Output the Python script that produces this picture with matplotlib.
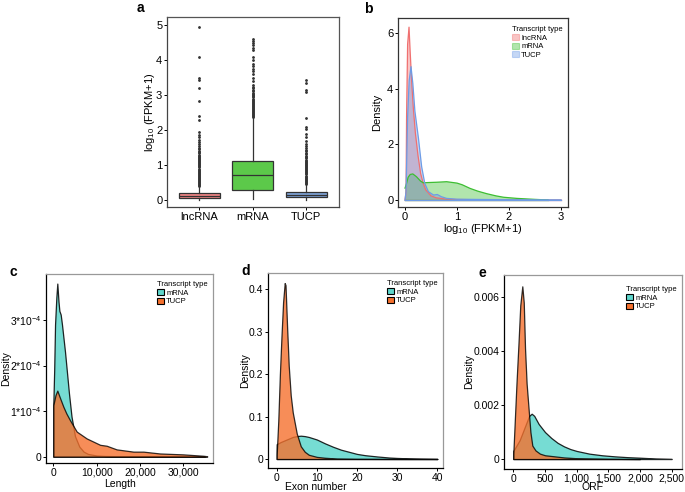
import matplotlib
matplotlib.use('Agg')
import matplotlib.pyplot as plt
from matplotlib.patches import Patch

plt.rcParams['font.family'] = ['Liberation Sans', 'DejaVu Sans']
plt.rcParams['mathtext.fontset'] = 'custom'
plt.rcParams['mathtext.rm'] = 'Liberation Sans'
plt.rcParams['mathtext.it'] = 'Liberation Sans:italic'

# ---------------- data ----------------
# panel a: box plot summary
box_cats = ['lncRNA', 'mRNA', 'TUCP']
box_q1 = [0.07, 0.30, 0.10]
box_med = [0.13, 0.73, 0.16]
box_q3 = [0.22, 1.12, 0.25]
box_lo = [0.01, 0.03, 0.02]
box_hi = [0.38, 2.35, 0.45]
fliers_lnc = [0.40, 0.43, 0.46, 0.49, 0.52, 0.55, 0.58, 0.61, 0.64, 0.67, 0.70, 0.73,
              0.76, 0.79, 0.82, 0.85, 0.88, 0.91, 0.94, 0.97, 1.00, 1.03, 1.06, 1.09,
              1.12, 1.15, 1.18, 1.21, 1.24, 1.27, 1.30, 1.34, 1.38, 1.42, 1.46, 1.50,
              1.55, 1.60, 1.66, 1.72, 1.80, 1.88, 1.95, 2.30, 2.40, 2.85, 3.20, 3.45,
              3.50, 4.10, 4.95]
fliers_mrna = [2.37, 2.40, 2.43, 2.46, 2.49, 2.52, 2.55, 2.58, 2.61, 2.64, 2.67, 2.70,
               2.73, 2.76, 2.79, 2.82, 2.85, 2.88, 2.91, 2.94, 2.97, 3.00, 3.04, 3.08,
               3.12, 3.16, 3.20, 3.25, 3.30, 3.40, 3.50, 3.60, 3.70, 3.75, 3.85, 3.90,
               4.00, 4.10, 4.30, 4.35, 4.45, 4.50, 4.55, 4.60]
fliers_tucp = [0.47, 0.50, 0.53, 0.56, 0.59, 0.62, 0.65, 0.68, 0.71, 0.74, 0.77, 0.80,
               0.83, 0.86, 0.89, 0.92, 0.95, 0.98, 1.01, 1.04, 1.07, 1.10, 1.13, 1.16,
               1.20, 1.24, 1.28, 1.32, 1.36, 1.40, 1.45, 1.50, 1.55, 1.60, 1.70, 1.80,
               1.90, 2.05, 2.10, 2.35, 3.10, 3.15, 3.35, 3.45]
box_fliers = [fliers_lnc, fliers_mrna, fliers_tucp]

# panel b: densities of log10(FPKM+1)
b_lnc_x = [0, 0.02, 0.03, 0.05, 0.077, 0.10, 0.13, 0.16, 0.20, 0.25, 0.30, 0.35, 0.40,
           0.50, 0.60, 0.80, 1.0, 1.5, 2.0, 2.5, 3.0]
b_lnc_y = [0, 0.3, 3.0, 5.6, 6.22, 5.3, 4.2, 3.3, 2.4, 1.6, 0.96, 0.6, 0.36,
           0.15, 0.08, 0.03, 0.02, 0.01, 0.005, 0.002, 0]
b_mrna_x = [0, 0.03, 0.06, 0.10, 0.15, 0.22, 0.30, 0.35, 0.45, 0.60, 0.80, 1.0, 1.1,
            1.25, 1.40, 1.57, 1.75, 1.9, 2.15, 2.5, 2.75]
b_mrna_y = [0.43, 0.6, 0.82, 0.92, 0.94, 0.84, 0.68, 0.62, 0.63, 0.64, 0.66, 0.61, 0.55,
            0.42, 0.32, 0.23, 0.15, 0.10, 0.06, 0.024, 0.003]
b_tucp_x = [0, 0.02, 0.05, 0.08, 0.115, 0.15, 0.19, 0.26, 0.32, 0.38, 0.45, 0.55, 0.62,
            0.70, 0.80, 1.0, 1.5, 2.0, 3.0]
b_tucp_y = [0, 0.3, 3.0, 4.3, 4.8, 4.2, 3.2, 2.2, 1.2, 0.6, 0.3, 0.18, 0.2,
            0.12, 0.06, 0.03, 0.02, 0.01, 0.005]

# panel c: transcript length densities (units of 1e-4)
c_mrna_x = [0, 200, 400, 700, 920, 1200, 1400, 1700, 2000, 2700, 3100, 3600, 4200,
            5000, 6000, 7000, 8000, 10000, 12000, 15000, 20000, 25000, 30000, 35000]
c_mrna_y = [1.15, 1.9, 2.9, 3.5, 3.8, 3.4, 3.2, 3.12, 2.9, 2.3, 1.9, 1.4, 0.88,
            0.45, 0.22, 0.11, 0.06, 0.025, 0.015, 0.01, 0.006, 0.004, 0.003, 0.001]
c_tucp_x = [0, 500, 920, 1500, 2300, 3000, 3850, 5400, 7700, 10800, 12300, 14600,
            18500, 20800, 24600, 30000, 34600, 35500]
c_tucp_y = [1.13, 1.35, 1.45, 1.3, 1.1, 0.95, 0.8, 0.55, 0.4, 0.26, 0.24, 0.16,
            0.11, 0.11, 0.07, 0.05, 0.02, 0.01]
c_scale = 1e-4

# panel d: exon number densities
d_mrna_x = [0, 1, 2, 3, 4, 5, 6, 7, 8, 10, 12, 14, 16, 18, 20, 22, 25, 28, 30, 33, 36, 40]
d_mrna_y = [0.035, 0.04, 0.044, 0.048, 0.052, 0.054, 0.055, 0.054, 0.052, 0.046, 0.037,
            0.029, 0.022, 0.017, 0.012, 0.009, 0.006, 0.0035, 0.0025, 0.0015, 0.0008, 0.0002]
d_tucp_x = [0, 0.4, 0.8, 1.2, 1.6, 2.0, 2.2, 2.6, 3.0, 3.5, 4.0, 4.5, 5.0, 6.0, 7.0, 8.0,
            10, 12, 15, 20, 30, 40]
d_tucp_y = [0.01, 0.09, 0.2, 0.29, 0.37, 0.415, 0.41, 0.31, 0.22, 0.15, 0.11, 0.085, 0.06,
            0.03, 0.017, 0.01, 0.005, 0.003, 0.001, 0.0003, 0.0001, 0]

# panel e: ORF length densities
e_mrna_x = [0, 50, 100, 150, 200, 250, 290, 330, 400, 450, 500, 600, 700, 800, 900, 1000,
            1200, 1400, 1600, 1800, 2000, 2250, 2500]
e_mrna_y = [0.0003, 0.0005, 0.0007, 0.001, 0.0013, 0.0016, 0.00168, 0.0016, 0.0013,
            0.00115, 0.001, 0.00078, 0.0006, 0.00047, 0.00037, 0.0003, 0.0002, 0.00014,
            0.0001, 0.00007, 0.00005, 0.00002, 0.000005]
e_tucp_x = [0, 25, 50, 80, 110, 142, 165, 185, 210, 240, 270, 300, 350, 420, 500, 650,
            800, 1000, 1500, 2000]
e_tucp_y = [0.0002, 0.0015, 0.0028, 0.0042, 0.0057, 0.0064, 0.0058, 0.0041, 0.0028, 0.0019,
            0.001, 0.0005, 0.00032, 0.0002, 0.00014, 0.0001, 0.00006, 0.00003, 0.00001, 0]

# ---------------- styling ----------------
W, H = 685, 492
fig = plt.figure(figsize=(W / 100, H / 100), dpi=100)
AX = {}


def rect(l, t, r, b):
    return [l / W, 1 - b / H, (r - l) / W, (b - t) / H]


def add_axes(name, l, t, r, b):
    ax = fig.add_axes(rect(l, t, r, b))
    AX[name] = (ax, l, t, r, b)
    return ax


def place_labels(name, xlab, ylab, xl_xy, yl_x, size=8):
    ax, l, t, r, b = AX[name]
    if xlab is not None:
        ax.set_xlabel(xlab, fontsize=size, va='center')
        ax.xaxis.set_label_coords((xl_xy[0] - l) / (r - l), (b - xl_xy[1]) / (b - t))
    if ylab is not None:
        ax.set_ylabel(ylab, fontsize=size, va='center')
        ax.yaxis.set_label_coords((yl_x - l) / (r - l), 0.5)


def style(ax, frame_tr='#444444', frame_lb='#333333', size=8):
    for s in ['top', 'right']:
        ax.spines[s].set_color(frame_tr)
        ax.spines[s].set_linewidth(0.9)
    for s in ['left', 'bottom']:
        ax.spines[s].set_color(frame_lb)
        ax.spines[s].set_linewidth(0.9)
    ax.tick_params(direction='out', length=2.2, width=0.7, labelsize=size,
                   colors='black', pad=1.2)


def legend(ax, labels, colors, alpha, edge, loc_xy):
    handles = [Patch(facecolor=c, alpha=alpha, edgecolor=e, linewidth=0.8)
               for c, e in zip(colors, edge)]
    lg = ax.legend(handles, labels, title='Transcript type', loc='upper right',
                   bbox_to_anchor=loc_xy, frameon=False, fontsize=5.5,
                   title_fontsize=5.5, handlelength=0.9, handleheight=0.9,
                   handletextpad=0.3, labelspacing=0.1, borderpad=0.2)
    lg._legend_box.align = 'left'
    return lg


# ---------------- panel a ----------------
box_cols = ['#F08585', '#5CC94A', '#7EA2D6']
axa = add_axes('a', 167, 17, 338.5, 207)
stats = []
for i in range(3):
    stats.append(dict(med=box_med[i], q1=box_q1[i], q3=box_q3[i],
                      whislo=box_lo[i], whishi=box_hi[i], fliers=box_fliers[i],
                      label=box_cats[i]))
bp = axa.bxp(stats, positions=[1, 2, 3], widths=0.76, patch_artist=True,
             boxprops=dict(edgecolor='#333333', linewidth=0.9),
             medianprops=dict(color='#333333', linewidth=0.9),
             whiskerprops=dict(color='#333333', linewidth=0.9),
             capprops=dict(linewidth=0),
             flierprops=dict(marker='o', markersize=1.0, markerfacecolor='#333333',
                             markeredgecolor='#333333', linestyle='none'))
for p, c in zip(bp['boxes'], box_cols):
    p.set_facecolor(c)
axa.set_xlim(0.4, 3.6)
axa.set_ylim(-0.19, 5.24)
axa.set_yticks([0, 1, 2, 3, 4, 5])
style(axa, '#555555', '#444444')
place_labels('a', None, r'log$_{\mathregular{10}}$ (FPKM+1)', None, 150)

# ---------------- panel b ----------------
b_cols = ['#F07070', '#3DBE32', '#6E9CE6']
axb = add_axes('b', 398, 18, 568, 207)
for xs, ys, c in [(b_lnc_x, b_lnc_y, b_cols[0]), (b_mrna_x, b_mrna_y, b_cols[1]),
                  (b_tucp_x, b_tucp_y, b_cols[2])]:
    axb.fill_between(xs, ys, 0, facecolor=c, alpha=0.4, edgecolor='none')
    axb.plot(xs, ys, color=c, lw=0.9)
    axb.plot([xs[0], xs[-1]], [0, 0], color=c, lw=0.9)
axb.set_xlim(-0.135, 3.135)
axb.set_ylim(-0.25, 6.55)
axb.set_xticks([0, 1, 2, 3])
axb.set_yticks([0, 2, 4, 6])
style(axb, '#333333', '#333333')
place_labels('b', r'log$_{\mathregular{10}}$ (FPKM+1)', 'Density', (483, 229), 377)
legend(axb, box_cats, b_cols, 0.4, b_cols, (1.0, 0.985))

# ---------------- panels c,d,e ----------------
teal = '#5ED6CC'
orange = '#F5712E'


def dens_pair(ax, mx, my, tx, ty):
    ax.fill_between(mx, my, 0, facecolor=teal, alpha=0.85, edgecolor='black',
                    linewidth=0.9)
    ax.fill_between(tx, ty, 0, facecolor=orange, alpha=0.8, edgecolor='black',
                    linewidth=0.9)


axc = add_axes('c', 46, 274, 213, 463)
dens_pair(axc, c_mrna_x, [v * c_scale for v in c_mrna_y],
          c_tucp_x, [v * c_scale for v in c_tucp_y])
axc.set_xlim(-1690, 36850)
axc.set_ylim(-0.139e-4, 4.01e-4)
axc.set_xticks([0, 10000, 20000, 30000])
axc.set_xticklabels(['0', '10,000', '20,000', '30,000'])
axc.set_yticks([0, 1e-4, 2e-4, 3e-4])
axc.set_yticklabels(['0', r'1*10$^{\mathregular{-4}}$', r'2*10$^{\mathregular{-4}}$',
                     r'3*10$^{\mathregular{-4}}$'])
style(axc, '#999999', 'black', size=7.5)
place_labels('c', 'Length', 'Density', (120, 484), 6, size=7.5)
legend(axc, ['mRNA', 'TUCP'], [teal, orange], 1.0, ['black', 'black'], (1.0, 0.99))

axd = add_axes('d', 268, 273, 443, 468)
dens_pair(axd, d_mrna_x, d_mrna_y, d_tucp_x, d_tucp_y)
axd.set_xlim(-2.16, 41.4)
axd.set_ylim(-0.0212, 0.4387)
axd.set_xticks([0, 10, 20, 30, 40])
axd.set_yticks([0, 0.1, 0.2, 0.3, 0.4])
axd.set_yticklabels(['0', '0.1', '0.2', '0.3', '0.4'])
style(axd, '#999999', 'black', size=7.5)
place_labels('d', 'Exon number', 'Density', (316, 487), 245, size=7.5)
legend(axd, ['mRNA', 'TUCP'], [teal, orange], 1.0, ['black', 'black'], (1.0, 0.99))

axe = add_axes('e', 504, 275, 682, 469)
dens_pair(axe, e_mrna_x, e_mrna_y, e_tucp_x, e_tucp_y)
axe.set_xlim(-147, 2663)
axe.set_ylim(-0.000369, 0.00682)
axe.set_xticks([0, 500, 1000, 1500, 2000, 2500])
axe.set_xticklabels(['0', '500', '1,000', '1,500', '2,000', '2,500'])
axe.set_yticks([0, 0.002, 0.004, 0.006])
axe.set_yticklabels(['0', '0.002', '0.004', '0.006'])
style(axe, '#999999', 'black', size=7.5)
place_labels('e', 'ORF', 'Density', (593, 487.5), 469, size=7.5)
legend(axe, ['mRNA', 'TUCP'], [teal, orange], 1.0, ['black', 'black'], (1.0, 0.97))

# panel letters
for lbl, x, y in [('a', 140, 8), ('b', 368, 9), ('c', 13, 272), ('d', 246, 271),
                  ('e', 482, 273)]:
    fig.text(x / W, 1 - y / H, lbl, fontsize=10, fontweight='bold', va='center',
             ha='center')

fig.savefig('out.png', dpi=100)
